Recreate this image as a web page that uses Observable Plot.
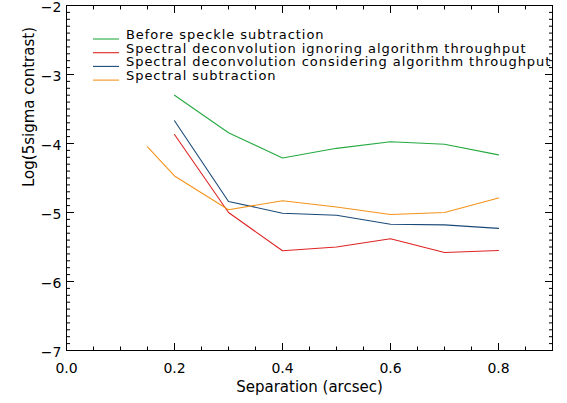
<!DOCTYPE html>
<html><head><meta charset="utf-8">
<script src="https://cdn.jsdelivr.net/npm/d3@7"></script>
<script src="https://cdn.jsdelivr.net/npm/@observablehq/plot@0.6"></script>
<style>
body{margin:0;background:#fff;}
#chart{position:relative;width:567px;height:403px;}
#legend{position:absolute;left:0;top:0;pointer-events:none;}
</style></head><body><div id="chart"></div>
<script>
// Data
const separation = [0.2, 0.3, 0.4, 0.5, 0.6, 0.7, 0.8];
const beforeSpeckle = [-3.30, -3.845, -4.21, -4.07, -3.975, -4.01, -4.165];
const deconvIgnoring = [-3.87, -5.00, -5.555, -5.50, -5.38, -5.58, -5.55];
const deconvConsidering = [-3.67, -4.84, -5.01, -5.04, -5.17, -5.18, -5.23];
const separationSub = [0.15, 0.2, 0.3, 0.4, 0.5, 0.6, 0.7, 0.8];
const spectralSub = [-4.05, -4.47, -4.96, -4.83, -4.92, -5.03, -5.00, -4.79];

const seriesNames = [
  "Before speckle subtraction",
  "Spectral deconvolution ignoring algorithm throughput",
  "Spectral deconvolution considering algorithm throughput",
  "Spectral subtraction"
];
const seriesColors = ["#25a940", "#dd2424", "#1b4a78", "#f3931c"];

const xTicks = [0, 0.2, 0.4, 0.6, 0.8];
const yTicks = [-7, -6, -5, -4, -3, -2];
const xMinor = d3.range(0, 19).map(i => +(i * 0.05).toFixed(2));
const yMinor = d3.range(0, 51).map(i => +(-7 + i * 0.1).toFixed(1));

const xTitle = "Separation (arcsec)";
const yTitle = "Log(5sigma contrast)";

const toRows = (xs, ys) => xs.map((x, i) => ({x, y: ys[i]}));
const seriesData = [
  toRows(separation, beforeSpeckle),
  toRows(separation, deconvIgnoring),
  toRows(separation, deconvConsidering),
  toRows(separationSub, spectralSub)
];

const blank = () => "";
const W = 567, H = 403;
const margin = {top: 5, right: 15, bottom: 53, left: 66};

const plot = Plot.plot({
  width: W, height: H,
  marginTop: margin.top, marginRight: margin.right, marginBottom: margin.bottom, marginLeft: margin.left,
  style: {fontFamily: "DejaVu Sans, sans-serif", fontSize: "14px", background: "white", color: "black", overflow: "visible"},
  x: {domain: [0, 0.9], axis: null},
  y: {domain: [-7, -2], axis: null},
  marks: [
    // minor ticks (inward)
    Plot.axisX(xMinor, {anchor: "bottom", tickSize: -3.5, tickFormat: blank, label: null}),
    Plot.axisX(xMinor, {anchor: "top", tickSize: -3.5, tickFormat: blank, label: null}),
    Plot.axisY(yMinor, {anchor: "left", tickSize: -4, tickFormat: blank, label: null}),
    Plot.axisY(yMinor, {anchor: "right", tickSize: -4, tickFormat: blank, label: null}),
    // major ticks (inward)
    Plot.axisX(xTicks, {anchor: "bottom", tickSize: -7, tickFormat: blank, label: null}),
    Plot.axisX(xTicks, {anchor: "top", tickSize: -7, tickFormat: blank, label: null}),
    Plot.axisY(yTicks, {anchor: "left", tickSize: -8, tickFormat: blank, label: null}),
    Plot.axisY(yTicks, {anchor: "right", tickSize: -8, tickFormat: blank, label: null}),
    // tick labels
    Plot.axisX(xTicks, {anchor: "bottom", tickSize: 0, tickPadding: 13, tickFormat: d3.format(".1f"), label: null, fontSize: 14}),
    Plot.axisY(yTicks, {anchor: "left", tickSize: 0, tickPadding: 5, dy: 2, tickFormat: d => "\u2212" + Math.abs(d), label: null, fontSize: 14}),
    // titles
    Plot.text([xTitle], {frameAnchor: "bottom", dy: 41, fontSize: 15}),
    Plot.text([yTitle], {frameAnchor: "left", dx: -37, dy: 9, rotate: -90, fontSize: 15}),
    // series
    ...seriesData.map((rows, i) => Plot.line(rows, {x: "x", y: "y", stroke: seriesColors[i], strokeWidth: 1.1})),
    Plot.frame({stroke: "black", strokeWidth: 1})
  ]
});
document.getElementById("chart").appendChild(plot);

// Legend overlay
const legend = d3.select("#chart").append("svg")
  .attr("id", "legend").attr("width", W).attr("height", H);
const rowY0 = 39, rowStep = 13.7;
seriesNames.forEach((name, i) => {
  const y = rowY0 + i * rowStep;
  legend.append("line").attr("x1", 93).attr("x2", 119).attr("y1", y).attr("y2", y)
    .attr("stroke", seriesColors[i]).attr("stroke-width", 1.1);
  legend.append("text").attr("x", 126).attr("y", y)
    .attr("font-family", "DejaVu Sans, sans-serif").attr("font-size", 13)
    .attr("letter-spacing", "0.95px")
    .attr("fill", "black").text(name);
});
</script></body></html>
